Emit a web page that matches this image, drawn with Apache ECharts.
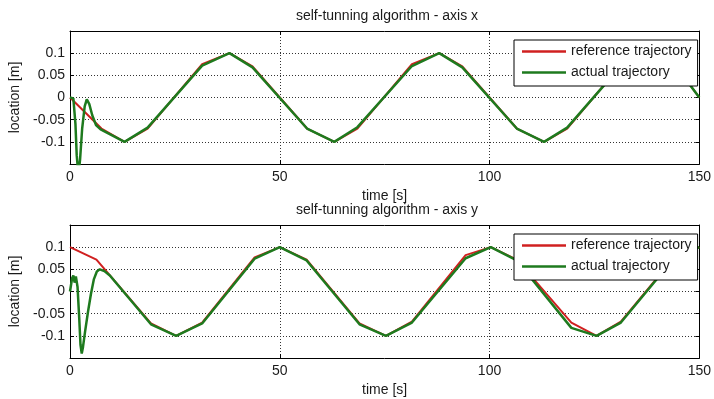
<!DOCTYPE html>
<html>
<head>
<meta charset="utf-8">
<script src="https://cdn.jsdelivr.net/npm/echarts@6/dist/echarts.min.js"></script>
<style>
  html, body { margin: 0; padding: 0; background: #fff; }
  #chart { width: 714px; height: 399px; }
</style>
</head>
<body>
<div id="chart"></div>
<script>
// axis x - reference trajectory
var refXTime = [0, 7.5, 13, 18.5, 31.5, 38, 43.5, 56.5, 63, 68.5, 81.5, 88, 93.5, 106.5, 113, 118.5, 131.5, 138, 144.5, 150]
var refXVal = [0, -0.07, -0.1, -0.07, 0.075, 0.1, 0.07, -0.07, -0.1, -0.07, 0.075, 0.1, 0.07, -0.07, -0.1, -0.07, 0.075, 0.1, 0.07, 0]
// axis x - actual trajectory
var actXTime = [0, 0.8, 1.3, 1.6, 2.0, 2.4, 2.9, 3.5, 4.0, 4.6, 5.3, 6.2, 7.3, 13, 18.5, 31.5, 38, 43.5, 56.5, 63, 68.5, 81.5, 88, 93.5, 106.5, 113, 118.5, 131.5, 138, 144.5, 150]
var actXVal = [0, -0.002, -0.06, -0.13, -0.175, -0.14, -0.07, -0.02, -0.004, -0.015, -0.04, -0.062, -0.072, -0.1, -0.068, 0.072, 0.1, 0.068, -0.07, -0.1, -0.067, 0.071, 0.1, 0.068, -0.07, -0.1, -0.068, 0.073, 0.1, 0.07, 0]

// axis y - reference trajectory
var refYTime = [0, 6.3, 19.3, 25.3, 31.5, 44, 50, 56.4, 69, 75.3, 81.5, 94.3, 100.3, 106.5, 119.5, 125.5, 131.3, 144, 150]
var refYVal = [0.1, 0.072, -0.072, -0.1, -0.07, 0.077, 0.1, 0.072, -0.072, -0.1, -0.068, 0.082, 0.1, 0.072, -0.07, -0.1, -0.068, 0.077, 0.1]
// axis y - actual trajectory
var actYTime = [0, 0.5, 0.8, 1.1, 1.4, 1.8, 2.2, 2.5, 2.8, 3.1, 3.6, 4.3, 5.0, 5.7, 6.4, 7.1, 8.2, 9.5, 19.3, 25.3, 31.5, 44, 50, 56.4, 69, 75.3, 81.5, 94.3, 100.3, 106.5, 119.5, 125.5, 131.3, 144, 150]
var actYVal = [0, 0.03, 0.036, 0.02, 0.034, 0.01, -0.06, -0.12, -0.14, -0.125, -0.09, -0.045, -0.005, 0.028, 0.045, 0.05, 0.046, 0.036, -0.074, -0.1, -0.072, 0.074, 0.1, 0.07, -0.074, -0.1, -0.07, 0.075, 0.1, 0.07, -0.082, -0.1, -0.07, 0.075, 0.1]

var timeTicks = { min: 0, max: 150, interval: 50 }
var locTicks = { min: -0.15, max: 0.15, interval: 0.05 }

var titles = ['self-tunning algorithm - axis x', 'self-tunning algorithm - axis y']
var legendNames = ['reference trajectory', 'actual trajectory']

function pairs(t, v) {
  var out = []
  for (var i = 0; i < t.length; i++) {
    out.push([t[i], v[i]])
  }
  return out
}

var font = "'Liberation Sans', Arial, sans-serif"
var txt = '#1a1a1a'
var red = '#d02020'
var green = '#1e7a1e'

var gridTops = [31, 225]
var gridH = 133

var grids = []
var xAxes = []
var yAxes = []
var series = []
var legends = []
var titleList = []

for (var g = 0; g < 2; g++) {
  grids.push({ left: 70, top: gridTops[g], width: 634, height: gridH })

  // bottom x axis
  xAxes.push({
    type: 'value', gridIndex: g, position: 'bottom',
    min: timeTicks.min, max: timeTicks.max, interval: timeTicks.interval,
    name: 'time [s]', nameLocation: 'middle', nameGap: 25,
    nameTextStyle: { fontSize: 14, color: txt, fontFamily: font },
    axisLine: { onZero: false, lineStyle: { color: '#000', width: 1 } },
    axisTick: { inside: true, length: 4, lineStyle: { color: '#000' } },
    axisLabel: { margin: 6, fontSize: 14, color: txt, fontFamily: font },
    splitLine: { show: true, lineStyle: { color: '#333', type: [1, 2], width: 1 } }
  })
  // top x axis (box edge)
  xAxes.push({
    type: 'value', gridIndex: g, position: 'top',
    min: timeTicks.min, max: timeTicks.max, interval: timeTicks.interval,
    axisLine: { onZero: false, lineStyle: { color: '#000', width: 1 } },
    axisTick: { inside: true, length: 4, lineStyle: { color: '#000' } },
    axisLabel: { show: false },
    splitLine: { show: false }
  })
  // left y axis
  yAxes.push({
    type: 'value', gridIndex: g, position: 'left',
    min: locTicks.min, max: locTicks.max, interval: locTicks.interval,
    name: 'location [m]', nameLocation: 'middle', nameGap: 41, nameRotate: 90,
    nameTextStyle: { fontSize: 14, color: txt, fontFamily: font },
    axisLine: { onZero: false, lineStyle: { color: '#000', width: 1 } },
    axisTick: { inside: true, length: 4, lineStyle: { color: '#000' } },
    axisLabel: {
      margin: 5, fontSize: 14, color: txt, fontFamily: font,
      formatter: function (v) {
        if (Math.abs(v) > 0.12) return ''
        return String(Math.round(v * 100) / 100)
      }
    },
    splitLine: { show: true, lineStyle: { color: '#333', type: [1, 2], width: 1 } }
  })
  // right y axis (box edge)
  yAxes.push({
    type: 'value', gridIndex: g, position: 'right',
    min: locTicks.min, max: locTicks.max, interval: locTicks.interval,
    axisLine: { onZero: false, lineStyle: { color: '#000', width: 1 } },
    axisTick: { inside: true, length: 4, lineStyle: { color: '#000' } },
    axisLabel: { show: false },
    splitLine: { show: false }
  })

  titleList.push({
    text: titles[g], left: 382, top: gridTops[g] - 27, textAlign: 'center',
    textStyle: { fontSize: 14, fontWeight: 'normal', color: txt, fontFamily: font }
  })

  legends.push({
    orient: 'vertical', left: 514, top: gridTops[g] + 9,
    data: legendNames, icon: 'rect', itemWidth: 44, itemHeight: 2.5, itemGap: 0,
    padding: [1, 6, 3, 8], borderColor: '#000', borderWidth: 1, borderRadius: 0,
    backgroundColor: '#fff', selectedMode: false,
    textStyle: { fontSize: 14, lineHeight: 21, color: txt, fontFamily: font }
  })
}

var refData = [pairs(refXTime, refXVal), pairs(refYTime, refYVal)]
var actData = [pairs(actXTime, actXVal), pairs(actYTime, actYVal)]

for (var k = 0; k < 2; k++) {
  series.push({
    name: legendNames[0], type: 'line', xAxisIndex: k * 2, yAxisIndex: k * 2,
    data: refData[k], showSymbol: false, symbol: 'none', clip: true, animation: false,
    itemStyle: { color: red }, lineStyle: { color: red, width: 2 }
  })
  series.push({
    name: legendNames[1], type: 'line', xAxisIndex: k * 2, yAxisIndex: k * 2,
    data: actData[k], showSymbol: false, symbol: 'none', clip: true, animation: false,
    itemStyle: { color: green }, lineStyle: { color: green, width: 2.5 }
  })
}

var chart = echarts.init(document.getElementById('chart'), null, { renderer: 'canvas' })
chart.setOption({
  animation: false,
  backgroundColor: '#fff',
  title: titleList,
  grid: grids,
  xAxis: xAxes,
  yAxis: yAxes,
  legend: legends,
  series: series
})
</script>
</body>
</html>
